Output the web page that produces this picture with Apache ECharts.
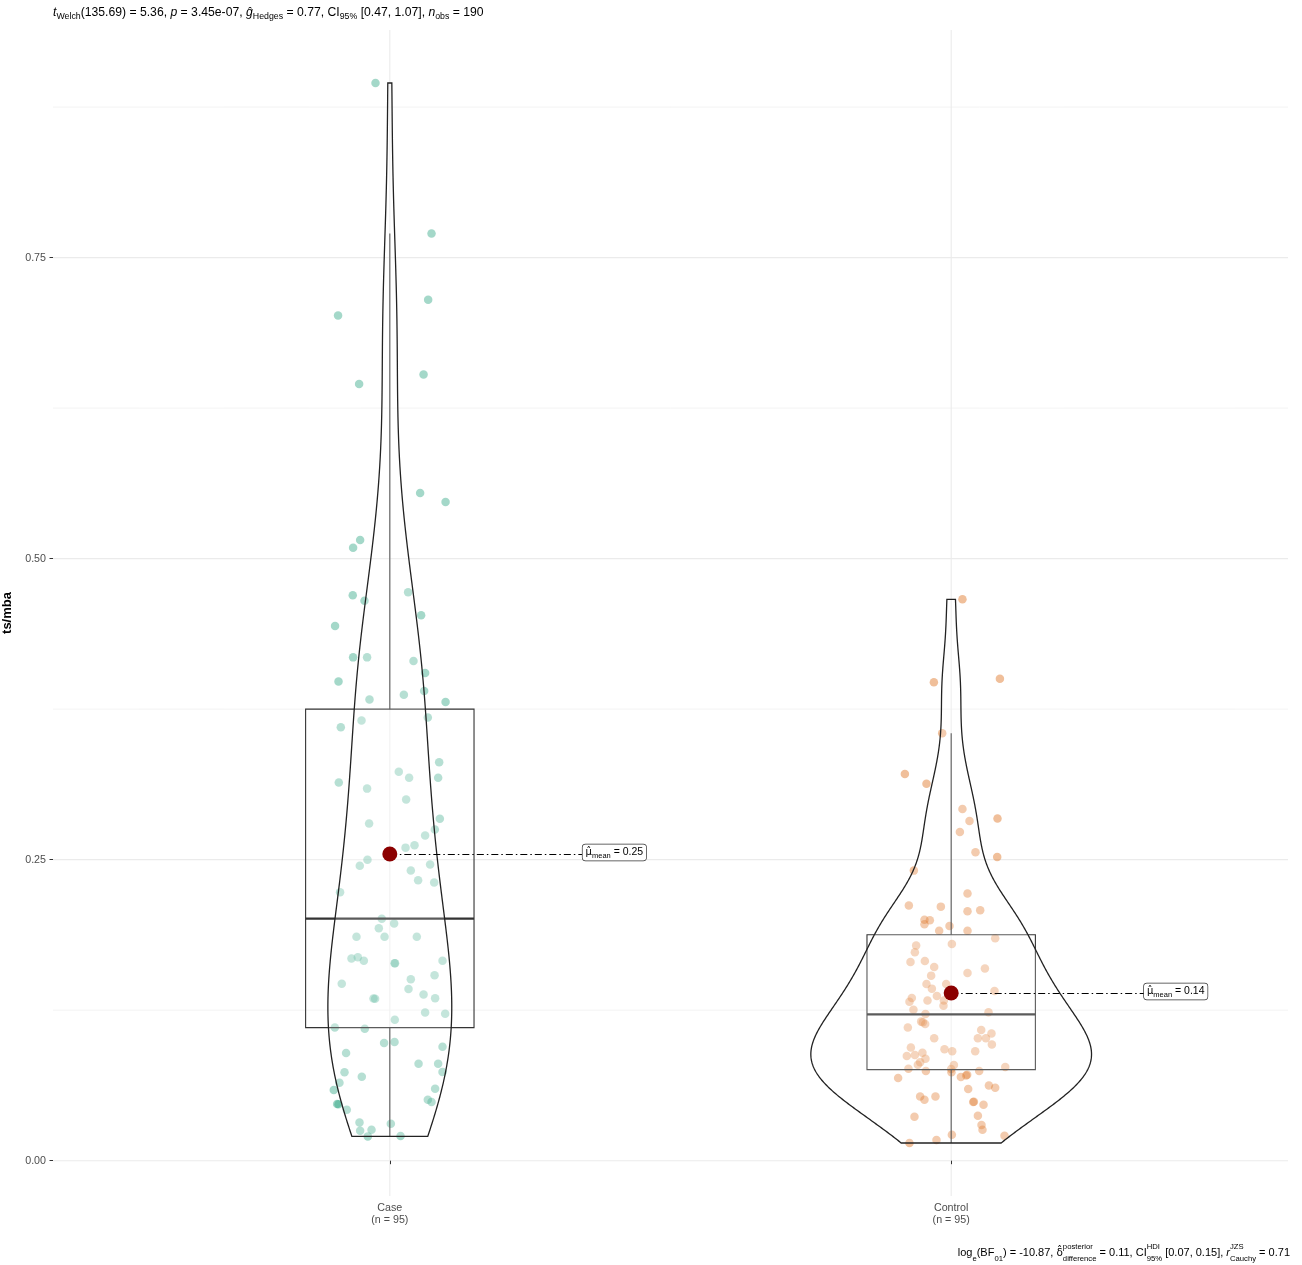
<!DOCTYPE html>
<html>
<head>
<meta charset="utf-8">
<script src="https://cdn.jsdelivr.net/npm/echarts@6/dist/echarts.min.js"></script>
<style>
  html, body { margin: 0; padding: 0; background: #ffffff; }
  #chart { width: 1302px; height: 1265px; }
</style>
</head>
<body>
<div id="chart"></div>
<script>
// Groups and sample sizes
const groups = ['Case', 'Control'];
const groupSizes = [95, 95];

// ts/mba values per participant
const caseValues = [
  0.895, 0.770, 0.715, 0.702, 0.653, 0.645, 0.5545, 0.547, 0.5155, 0.509,
  0.4695, 0.465, 0.472, 0.453, 0.444, 0.418, 0.418, 0.415, 0.405, 0.398,
  0.383, 0.387, 0.390, 0.381, 0.368, 0.360, 0.3655, 0.331, 0.323, 0.318,
  0.318, 0.314, 0.309, 0.300, 0.284, 0.280, 0.275, 0.270, 0.262, 0.260,
  0.250, 0.245, 0.246, 0.241, 0.233, 0.231, 0.223, 0.201, 0.193, 0.197,
  0.186, 0.186, 0.186, 0.168, 0.169, 0.166, 0.164, 0.166, 0.154, 0.147,
  0.1506, 0.1426, 0.1348, 0.1345, 0.138, 0.135, 0.123, 0.122, 0.117, 0.1107,
  0.1096, 0.0977, 0.0986, 0.0947, 0.0894, 0.0806, 0.0806, 0.0737, 0.0734, 0.0698,
  0.0648, 0.0587, 0.0598, 0.047, 0.0468, 0.0424, 0.0507, 0.0487, 0.0318, 0.0307,
  0.0249, 0.0257, 0.0202, 0.0205, 0.164
];
// horizontal jitter of each Case point, in category-axis units
const caseJitter = [
  -0.0255, 0.0743, 0.0683, -0.0922, 0.0601, -0.0547, 0.054, 0.0993, -0.0529, -0.0654,
  -0.066, -0.0451, 0.0326, 0.0558, -0.0975, -0.0654, -0.0405, 0.0422, 0.0629, -0.0914,
  -0.0362, 0.025, 0.0611, 0.0993, 0.0677, -0.0873, -0.0504, 0.0879, 0.016, 0.0344,
  0.0861, -0.0909, -0.0405, 0.0291, 0.0891, -0.0369, 0.0802, 0.0629, 0.044, 0.028,
  -0.0398, -0.0535, 0.0718, 0.0374, 0.0504, 0.079, -0.0886, -0.0143, -0.0196, 0.0077,
  -0.0594, -0.0094, 0.0481, -0.0683, -0.057, -0.0463, 0.0084, 0.0939, 0.0797, -0.0856,
  0.0374, 0.0333, -0.0291, -0.0262, 0.0601, 0.0807, 0.0629, 0.0986, 0.0089, -0.098,
  -0.0446, -0.0102, 0.0084, 0.0939, -0.0779, 0.0512, 0.0861, 0.0939, -0.0807, -0.0499,
  -0.0897, -0.0998, 0.0807, -0.0939, -0.0914, -0.0766, 0.0677, 0.0743, -0.054, 0.0018,
  -0.0529, -0.0326, -0.0392, 0.0191, 0.0094
];

const controlValues = [
  0.4662, 0.3973, 0.4003, 0.3549, 0.3212, 0.3131, 0.2921, 0.2821, 0.2841, 0.2730,
  0.2561, 0.2522, 0.2409, 0.2220, 0.2120, 0.2110, 0.2072, 0.2079, 0.2002, 0.1996,
  0.1963, 0.1949, 0.1910, 0.1910, 0.1847, 0.1788, 0.1800, 0.1732, 0.1651, 0.1659,
  0.1609, 0.1597, 0.1559, 0.1537, 0.1468, 0.1429, 0.1468, 0.1410, 0.1352, 0.1321,
  0.1368, 0.1331, 0.1331, 0.1287, 0.1254, 0.1218, 0.1232, 0.1107, 0.1155, 0.1135,
  0.1085, 0.1057, 0.1016, 0.1016, 0.0966, 0.1016, 0.0940, 0.0925, 0.0908, 0.0908,
  0.0870, 0.0878, 0.0897, 0.0847, 0.0817, 0.0797, 0.0795, 0.0764, 0.0745, 0.0762,
  0.0734, 0.0745, 0.0778, 0.0687, 0.0695, 0.0714, 0.0595, 0.0625, 0.0606, 0.0534,
  0.0507, 0.0534, 0.0487, 0.0490, 0.0465, 0.0365, 0.0374, 0.0296, 0.0257, 0.0216,
  0.0172, 0.0147, 0.0208, 0.1150, 0.0708
];
// horizontal jitter of each Control point, in category-axis units
const controlJitter = [
  0.0201, -0.0308, 0.0868, -0.016, -0.0825, -0.044, 0.0201, 0.0326, 0.0825, 0.0155,
  0.0433, 0.082, -0.0665, 0.0291, -0.0754, -0.0184, 0.0291, 0.0517, -0.0476, -0.038,
  -0.0476, -0.003, -0.0214, 0.0291, 0.0784, -0.0624, 0.0012, -0.0647, -0.0725, -0.0469,
  -0.0303, 0.0601, 0.0291, -0.0357, -0.044, -0.0344, -0.0089, 0.0772, -0.0701, -0.0743,
  -0.0255, -0.013, -0.0422, -0.0137, -0.0672, -0.0458, 0.0665, -0.0772, -0.0535, -0.0463,
  0.0535, 0.0718, 0.0476, 0.0619, 0.0725, -0.0303, -0.0718, -0.0119, 0.0018, 0.0428,
  -0.079, -0.0647, -0.0512, -0.0458, -0.0553, -0.0594, 0.0048, -0.0761, -0.0451, 0.0,
  0.0005, 0.0499, 0.0963, -0.0945, 0.0173, 0.0285, 0.0303, 0.0672, 0.0784, -0.0553,
  -0.0476, -0.028, 0.0392, 0.0405, 0.0576, -0.0654, 0.0476, 0.054, 0.0558, 0.0012,
  -0.0262, -0.0743, 0.095, -0.0505, 0.0267
];

// Box statistics: [lower whisker, Q1, median, Q3, upper whisker]
const caseBox = [0.0202, 0.1105, 0.201, 0.375, 0.770];
const controlBox = [0.0147, 0.0756, 0.1215, 0.1877, 0.355];

// Group means
const groupMeans = [0.2547, 0.1393];

// Axis ticks
const yTicks = [0, 0.25, 0.5, 0.75];
const yMinorTicks = [0.125, 0.375, 0.625, 0.875];
const xTicks = [1, 2];

const FONT = '"Liberation Sans", Arial, Helvetica, sans-serif';
const GREEK_FONT = '"DejaVu Sans", "Liberation Sans", sans-serif';
const pointColors = ['#1B9E77', '#D95F02'];

// ---- helpers -------------------------------------------------------------
function quantile(sorted, p) {
  const h = (sorted.length - 1) * p;
  const lo = Math.floor(h);
  const hi = Math.min(lo + 1, sorted.length - 1);
  return sorted[lo] + (h - lo) * (sorted[hi] - sorted[lo]);
}
// Silverman's rule of thumb (R's bw.nrd0)
function bwNrd0(values) {
  const s = values.slice().sort((a, b) => a - b);
  const n = s.length;
  const mean = s.reduce((a, b) => a + b, 0) / n;
  const sd = Math.sqrt(s.reduce((a, b) => a + (b - mean) * (b - mean), 0) / (n - 1));
  const iqr = quantile(s, 0.75) - quantile(s, 0.25);
  const lo = Math.min(sd, iqr / 1.34) || sd || 1;
  return 0.9 * lo * Math.pow(n, -0.2);
}
// Gaussian kernel density, trimmed to the data range
function density(values, m) {
  const bw = bwNrd0(values);
  const lo = Math.min.apply(null, values);
  const hi = Math.max.apply(null, values);
  const k = 1 / (values.length * bw * Math.sqrt(2 * Math.PI));
  const out = [];
  for (let i = 0; i < m; i++) {
    const y = lo + (hi - lo) * i / (m - 1);
    let d = 0;
    for (const x of values) {
      const z = (y - x) / bw;
      d += Math.exp(-0.5 * z * z);
    }
    out.push([y, d * k]);
  }
  return out;
}

const groupValues = [caseValues, controlValues];
const groupJitter = [caseJitter, controlJitter];
const boxStats = [caseBox, controlBox];

// violins scaled by area: widest density across groups gets half-width 0.25
const densities = groupValues.map(v => density(v, 512));
const maxDensity = Math.max.apply(null, densities.map(d => Math.max.apply(null, d.map(p => p[1]))));
const violinCurves = densities.map(d => d.map(([y, v]) => [y, 0.25 * v / maxDensity]));

// y range: data range expanded by 5% on each side
const allValues = caseValues.concat(controlValues);
const yLo = Math.min.apply(null, allValues);
const yHi = Math.max.apply(null, allValues);
const yPad = (yHi - yLo) * 0.05;
const yMin = yLo - yPad;
const yMax = yHi + yPad;

// ---- series --------------------------------------------------------------
const gridSeries = {
  type: 'custom',
  silent: true,
  z: 0,
  data: yTicks.map(v => [1, v, 1]).concat(yMinorTicks.map(v => [1, v, 0])),
  encode: { x: 0, y: 1 },
  renderItem(params, api) {
    const cs = params.coordSys;
    const y = api.coord([1, api.value(1)])[1];
    const major = api.value(2) === 1;
    return {
      type: 'line',
      shape: { x1: cs.x, y1: y, x2: cs.x + cs.width, y2: y },
      style: { stroke: '#EBEBEB', lineWidth: major ? 1.1 : 0.6 }
    };
  }
};

const vGridSeries = {
  type: 'custom',
  silent: true,
  z: 0,
  data: xTicks.map(v => [v, yMin]),
  encode: { x: 0, y: 1 },
  renderItem(params, api) {
    const cs = params.coordSys;
    const x = api.coord([api.value(0), 0])[0];
    return {
      type: 'line',
      shape: { x1: x, y1: cs.y, x2: x, y2: cs.y + cs.height },
      style: { stroke: '#EBEBEB', lineWidth: 1.1 }
    };
  }
};

const pointSeries = groups.map((g, gi) => ({
  type: 'scatter',
  name: g,
  z: 2,
  symbolSize: 8.5,
  itemStyle: { color: pointColors[gi], opacity: 0.4 },
  emphasis: { disabled: true },
  data: groupValues[gi].map((v, i) => [gi + 1 + groupJitter[gi][i], v])
}));

const boxSeries = {
  type: 'custom',
  z: 3,
  silent: true,
  data: boxStats.map((s, i) => [i + 1].concat(s)),
  encode: { x: 0, y: [1, 2, 3, 4, 5] },
  renderItem(params, api) {
    const c = api.value(0);
    const half = 0.15;
    const pMin = api.coord([c, api.value(1)]);
    const pQ1R = api.coord([c + half, api.value(2)]);
    const pMedL = api.coord([c - half, api.value(3)]);
    const pMedR = api.coord([c + half, api.value(3)]);
    const pQ3L = api.coord([c - half, api.value(4)]);
    const pMax = api.coord([c, api.value(5)]);
    const pQ1 = api.coord([c, api.value(2)]);
    const pQ3 = api.coord([c, api.value(4)]);
    const stroke = '#333333';
    return {
      type: 'group',
      children: [
        { type: 'line', shape: { x1: pQ3[0], y1: pQ3[1], x2: pMax[0], y2: pMax[1] }, style: { stroke, lineWidth: 1.1 } },
        { type: 'line', shape: { x1: pQ1[0], y1: pQ1[1], x2: pMin[0], y2: pMin[1] }, style: { stroke, lineWidth: 1.1 } },
        { type: 'rect', shape: { x: pQ3L[0], y: pQ3L[1], width: pQ1R[0] - pQ3L[0], height: pQ1R[1] - pQ3L[1] },
          style: { fill: 'rgba(255,255,255,0.2)', stroke, lineWidth: 1.1 } },
        { type: 'line', shape: { x1: pMedL[0], y1: pMedL[1], x2: pMedR[0], y2: pMedR[1] }, style: { stroke, lineWidth: 2.2 } }
      ]
    };
  }
};

const violinSeries = {
  type: 'custom',
  z: 4,
  silent: true,
  data: groups.map((g, i) => [i + 1, boxStats[i][2]]),
  encode: { x: 0, y: 1 },
  renderItem(params, api) {
    const c = api.value(0);
    const curve = violinCurves[c - 1];
    const right = curve.map(([y, w]) => api.coord([c + w, y]));
    const left = curve.slice().reverse().map(([y, w]) => api.coord([c - w, y]));
    return {
      type: 'polygon',
      shape: { points: right.concat(left) },
      style: { fill: 'rgba(255,255,255,0.2)', stroke: '#222222', lineWidth: 1.3 }
    };
  }
};

const meanLabelSeries = {
  type: 'custom',
  z: 5,
  silent: true,
  data: groupMeans.map((m, i) => [i + 1, m]),
  encode: { x: 0, y: 1 },
  renderItem(params, api) {
    const c = api.value(0);
    const m = api.value(1);
    const p0 = api.coord([c, m]);
    const p1 = api.coord([c + 0.4, m]);
    const ly = Math.round(p0[1]) + 0.5;
    return {
      type: 'group',
      children: [
        { type: 'line', shape: { x1: p0[0], y1: ly, x2: p1[0], y2: ly },
          style: { stroke: '#000', lineWidth: 1, lineDash: [7, 3, 1.5, 3] } },
        { type: 'text', z2: 10,
          style: {
            x: p1[0], y: p1[1] - 1.5,
            align: 'center', verticalAlign: 'middle',
            text: '{mu|μ̂}{sub|mean}{n| = ' + m.toFixed(2) + '}',
            rich: {
              mu: { fontFamily: GREEK_FONT, fontSize: 10, lineHeight: 14, fill: '#000' },
              sub: { fontFamily: FONT, fontSize: 7.5, lineHeight: 8, verticalAlign: 'bottom', fill: '#000' },
              n: { fontFamily: FONT, fontSize: 10.5, lineHeight: 14, fill: '#000' }
            },
            backgroundColor: '#ffffff',
            borderColor: '#333333',
            borderWidth: 0.7,
            borderRadius: 3,
            padding: [1, 3, 1, 3]
          } }
      ]
    };
  }
};

const meanSeries = {
  type: 'scatter',
  z: 6,
  symbolSize: 15,
  itemStyle: { color: '#8B0000', opacity: 1 },
  emphasis: { disabled: true },
  data: groupMeans.map((m, i) => [i + 1, m])
};

// ---- chart ---------------------------------------------------------------
function richSet(size, subSize, lh, subLh) {
  const base = { fontFamily: FONT, fontWeight: 'normal', color: '#000' };
  return {
    n: Object.assign({ fontSize: size, lineHeight: lh }, base),
    it: Object.assign({ fontSize: size, lineHeight: lh, fontStyle: 'italic' }, base),
    gr: Object.assign({ fontSize: size - 0.5, lineHeight: lh }, base, { fontFamily: GREEK_FONT }),
    sub: Object.assign({ fontSize: subSize, lineHeight: subLh, verticalAlign: 'bottom' }, base),
    sup: Object.assign({ fontSize: subSize, lineHeight: subLh, verticalAlign: 'top', width: 0 }, base)
  };
}

const chart = echarts.init(document.getElementById('chart'), null, { renderer: 'canvas' });
chart.setOption({
  animation: false,
  backgroundColor: '#ffffff',
  title: [
    {
      left: 53, top: 5, padding: 0,
      text: '{it|t}{sub|Welch}{n|(135.69) = 5.36, }{it|p}{n| = 3.45e-07, }{it|ĝ}{sub|Hedges}{n| = 0.77, CI}{sub|95%}{n| [0.47, 1.07], }{it|n}{sub|obs}{n| = 190}',
      textStyle: { fontWeight: 'normal', rich: richSet(12.2, 8.8, 16, 9) }
    },
    {
      right: 12, bottom: 2, padding: 0,
      text: '{n|log}{sub|e}{n|(BF}{sub|01}{n|) = -10.87, }{gr|δ̂}{sup|posterior}{sub|difference}{n| = 0.11, CI}{sup|HDI}{sub|95%}{n| [0.07, 0.15], }{it|r}{sup|JZS}{sub|Cauchy}{n| = 0.71}',
      textStyle: { fontWeight: 'normal', rich: richSet(11, 7.7, 20, 11) }
    }
  ],
  grid: { left: 53, right: 14, top: 30, bottom: 69, containLabel: false, outerBoundsMode: 'none' },
  xAxis: {
    type: 'value',
    min: 0.4,
    max: 2.6,
    axisLine: { show: false },
    splitLine: { show: false },
    axisTick: { show: true, customValues: xTicks, length: 3.5, lineStyle: { color: '#333', width: 1 } },
    axisLabel: {
      customValues: xTicks,
      margin: 6,
      fontFamily: FONT, fontSize: 10.7, color: '#4D4D4D', lineHeight: 12,
      formatter: v => groups[Math.round(v) - 1] + '\n(n = ' + groupSizes[Math.round(v) - 1] + ')'
    }
  },
  yAxis: {
    type: 'value',
    min: yMin,
    max: yMax,
    name: 'ts/mba',
    nameLocation: 'middle',
    nameRotate: 90,
    nameGap: 38,
    nameTextStyle: { fontFamily: FONT, fontSize: 13, fontWeight: 'bold', color: '#000' },
    axisLine: { show: false },
    splitLine: { show: false },
    axisTick: { show: true, customValues: yTicks, length: 3.5, lineStyle: { color: '#333', width: 1 } },
    axisLabel: {
      customValues: yTicks,
      margin: 7,
      fontFamily: FONT, fontSize: 10.7, color: '#4D4D4D',
      formatter: v => v.toFixed(2)
    }
  },
  series: [gridSeries, vGridSeries].concat(pointSeries, [boxSeries, violinSeries, meanLabelSeries, meanSeries])
});
</script>
</body>
</html>
